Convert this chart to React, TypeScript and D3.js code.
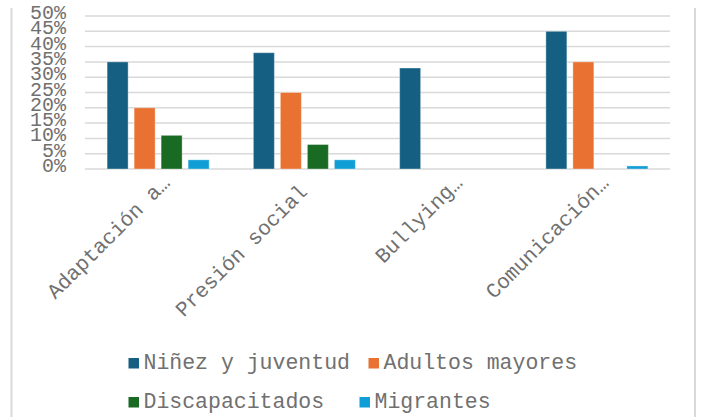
import React from "react";
import * as d3 from "d3";

const categories = ["Adaptación a…", "Presión social ", "Bullying…", "Comunicación…"];
const seriesNames = ["Niñez y juventud", "Adultos mayores", "Discapacitados", "Migrantes"];
const ninezJuventud = [0.35, 0.38, 0.33, 0.45];
const adultosMayores = [0.2, 0.25, 0, 0.35];
const discapacitados = [0.11, 0.08, 0, 0];
const migrantes = [0.03, 0.03, 0, 0.01];
const yTicks = [0, 0.05, 0.1, 0.15, 0.2, 0.25, 0.3, 0.35, 0.4, 0.45, 0.5];

const colors = ["#156082", "#E97132", "#196B24", "#0F9ED5"];
const seriesValues = [ninezJuventud, adultosMayores, discapacitados, migrantes];

const W = 705;
const H = 417;
const FONT = "'Liberation Mono', 'Courier New', monospace";
const TEXT = "#707070";
const GRID = "#d9d9d9";

// legend placement: [x, baseline] of each entry's swatch
const legendSlots = [
  [128.5, 369],
  [368.5, 369],
  [128.5, 408],
  [359.5, 408],
];

export default function App() {
  const plotLeft = 85;
  const plotRight = 670;
  const plotTop = 16;
  const plotBottom = 169;

  const x = d3.scaleBand<string>().domain(categories).range([plotLeft, plotRight]).padding(0);
  const y = d3.scaleLinear().domain([0, 0.5]).range([plotBottom, plotTop]);
  const groupHalf = 51;
  const fmt = d3.format(".0%");

  return (
    <div style={{ position: "absolute", left: 0, top: 0 }}>
      <svg width={W} height={H} style={{ display: "block", background: "#fff" }}>
        <line x1={11.5} x2={11.5} y1={8} y2={H} stroke={GRID} strokeWidth={2} />
        <line x1={695} x2={695} y1={8} y2={H} stroke={GRID} strokeWidth={2} />

        {yTicks.map((t) => (
          <g key={t}>
            <line x1={plotLeft} x2={plotRight} y1={y(t)} y2={y(t)} stroke={GRID} strokeWidth={1.5} />
            <text
              x={66}
              y={y(t) + 3}
              textAnchor="end"
              fontFamily={FONT}
              fontSize={20}
              fill={TEXT}
            >
              {fmt(t)}
            </text>
          </g>
        ))}

        {categories.map((c, ci) => {
          const cx = (x(c) as number) + x.bandwidth() / 2;
          const inner = d3
            .scaleBand<number>()
            .domain(d3.range(seriesNames.length))
            .range([cx - groupHalf, cx + groupHalf])
            .paddingInner(6 / 27)
            .paddingOuter(0);
          return (
            <g key={c}>
              {seriesValues.map((vals, si) => {
                const v = vals[ci];
                if (!v) return null;
                return (
                  <rect
                    key={si}
                    x={inner(si)}
                    y={y(v)}
                    width={inner.bandwidth()}
                    height={y(0) - y(v)}
                    fill={colors[si]}
                    stroke="#ffffff"
                    strokeOpacity={0.35}
                    strokeWidth={1}
                  />
                );
              })}
              <text
                transform={`translate(${cx + 13},${184}) rotate(-45)`}
                textAnchor="end"
                fontFamily={FONT}
                fontSize={21}
                fill={TEXT}
                style={{ whiteSpace: "pre" }}
              >
                {c}
              </text>
            </g>
          );
        })}

        {seriesNames.map((n, i) => {
          const [lx, ly] = legendSlots[i];
          return (
            <g key={n}>
              <rect x={lx} y={ly - 11} width={10.5} height={10.5} fill={colors[i]} />
              <text x={lx + 15} y={ly} fontFamily={FONT} fontSize={21.5} fill={TEXT}>
                {n}
              </text>
            </g>
          );
        })}
      </svg>
    </div>
  );
}
